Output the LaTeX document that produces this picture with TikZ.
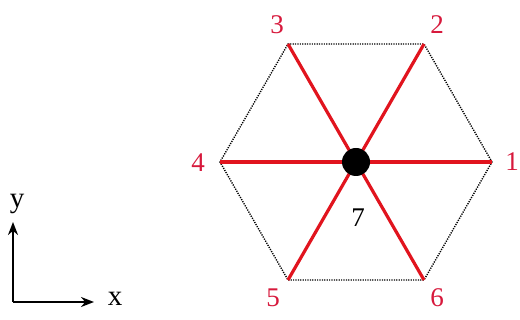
\documentclass[tikz,border=0pt]{standalone}
\usepackage{fontspec}
\setmainfont{Liberation Serif}
\usetikzlibrary{arrows.meta}
\definecolor{spoke}{RGB}{225,20,30}
\definecolor{lbl}{RGB}{215,25,60}
\begin{document}
\begin{tikzpicture}[x=1pt,y=-1pt,
  spokeline/.style={draw=spoke,line width=3.2pt},
  rimline/.style={draw=black,line width=1.4pt,dash pattern=on 1.2pt off 1.2pt},
  vlabel/.style={text=lbl,font=\fontsize{27}{30}\selectfont,inner sep=0pt},
  axis/.style={draw=black,line width=2pt,-{Stealth[length=13pt,width=10pt]}},
  axlabel/.style={font=\fontsize{29}{30}\selectfont,inner sep=0pt}]
\useasboundingbox (0,0) rectangle (520,320);
\coordinate (c0) at (356,162);
\coordinate (v1) at (492,162);
\coordinate (v2) at (424,44);
\coordinate (v3) at (288,44);
\coordinate (v4) at (220,162);
\coordinate (v5) at (288,280);
\coordinate (v6) at (424,280);
\draw[rimline] (v1) -- (v2) -- (v3) -- (v4) -- (v5) -- (v6) -- cycle;
\foreach \i in {1,...,6} {\draw[spokeline] (c0) -- (v\i);}
\node[circle,fill=black,minimum size=28pt,inner sep=0pt] (c) at (c0) {};
\node[vlabel] (l1) at (512,162) {1};
\node[vlabel] (l2) at (437,25) {2};
\node[vlabel] (l3) at (277,25) {3};
\node[vlabel] (l4) at (198,163) {4};
\node[vlabel] (l5) at (273,298) {5};
\node[vlabel] (l6) at (437,298) {6};
\node[vlabel,text=black] (l7) at (358,218) {7};
\coordinate (o) at (13,302);
\coordinate (ay) at (13,222);
\coordinate (ax) at (94,302);
\draw[axis] (o) -- (ay);
\draw[axis] (o) -- (ax);
\node[axlabel] (ylab) at (17,204) {y};
\node[axlabel] (xlab) at (115,299) {x};
\end{tikzpicture}
\end{document}
